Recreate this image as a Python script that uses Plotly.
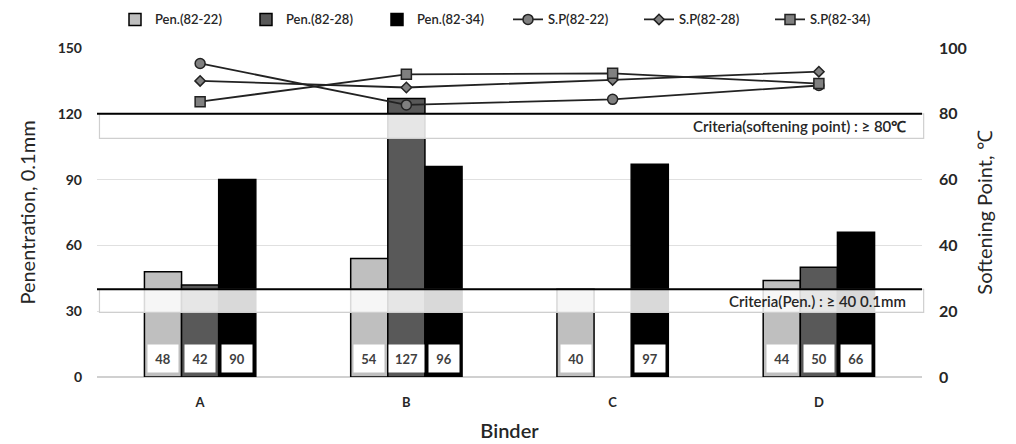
import plotly.graph_objects as go

binders = ["A", "B", "C", "D"]
pen_names = ["Pen.(82-22)", "Pen.(82-28)", "Pen.(82-34)"]
pen_82_22 = [48, 54, 40, 44]
pen_82_28 = [42, 127, None, 50]
pen_82_34 = [90, 96, 97, 66]

sp_names = ["S.P(82-22)", "S.P(82-28)", "S.P(82-34)"]
sp_82_22 = [95.3, 82.7, 84.4, 88.6]
sp_82_28 = [90.0, 88.0, 90.3, 92.8]
sp_82_34 = [83.7, 92.0, 92.3, 89.2]

pen_criteria = 40
sp_criteria = 80

FONT = "Lato"
bar_colors = ["#bfbfbf", "#595959", "#000000"]
pen_series = [pen_82_22, pen_82_28, pen_82_34]
sp_series = [sp_82_22, sp_82_28, sp_82_34]

fig = go.Figure()
for name, vals, col in zip(pen_names, pen_series, bar_colors):
    fig.add_trace(go.Bar(
        x=binders, y=vals, name=name,
        marker=dict(color=col, line=dict(color="#000000", width=1.5)),
        yaxis="y",
    ))

sp_markers = [
    dict(symbol="circle", size=10, color="#808080", line=dict(color="#222", width=1.5)),
    dict(symbol="diamond", size=8, color="#808080", line=dict(color="#222", width=1.5)),
    dict(symbol="square", size=10, color="#808080", line=dict(color="#222", width=1.5)),
]
for name, vals, mk in zip(sp_names, sp_series, sp_markers):
    fig.add_trace(go.Scatter(
        x=binders, y=vals, name=name, mode="lines+markers",
        line=dict(color="#222222", width=1.8), marker=mk, yaxis="y2",
    ))

# data labels at bar bottoms
bar_w = 0.18
for i, vals in enumerate(pen_series):
    for j, v in enumerate(vals):
        if v is None:
            continue
        fig.add_annotation(
            x=j + (i - 1) * bar_w, y=0, xref="x", yref="y",
            text="<b>%d</b>" % v, showarrow=False, yanchor="bottom", yshift=4,
            font=dict(family=FONT, size=13, color="#404040"),
            bgcolor="white", width=28 if v < 100 else 33, height=25,
        )

# criteria bands
for crit, label, depth in [(sp_criteria * 1.5, "Criteria(softening point) : ≥ 80℃", 11.2),
                           (pen_criteria, "Criteria(Pen.) : ≥ 40 0.1mm", 10.5)]:
    fig.add_shape(type="rect", xref="paper", yref="y", x0=0.003, x1=1.002,
                  y0=crit - depth, y1=crit, layer="above",
                  fillcolor="rgba(255,255,255,0.85)", line=dict(color="#cfcfcf", width=1.2))
    fig.add_shape(type="line", xref="paper", yref="y", x0=0, x1=1, y0=crit, y1=crit,
                  layer="above", line=dict(color="#000000", width=2))
    fig.add_annotation(x=0.983, y=crit - depth / 2, xref="paper", yref="y",
                       text=label, showarrow=False, xanchor="right", yanchor="middle",
                       font=dict(family=FONT, size=15, color="#262626", weight=600))

fig.update_layout(
    width=1016, height=444,
    margin=dict(l=97, r=94, t=48, b=67, autoexpand=False),
    paper_bgcolor="white", plot_bgcolor="white",
    barmode="group", bargap=0.46, bargroupgap=0,
    font=dict(family=FONT, color="#262626"),
    legend=dict(orientation="h", x=0.5, xanchor="center", xref="container",
                y=0.99, yanchor="top", yref="container",
                entrywidth=86, entrywidthmode="pixels",
                font=dict(family=FONT, size=13, color="#262626", weight=600),
                traceorder="normal"),
    xaxis=dict(showgrid=False, tickfont=dict(family=FONT, size=13, color="#262626", weight="bold"),
               ticklabelstandoff=16,
               title=dict(text="Binder", font=dict(family=FONT, size=20, color="#262626", weight=600),
                          standoff=14),
               showline=False, ticks=""),
    yaxis=dict(range=[0, 150], dtick=30, showgrid=True, gridcolor="#e0e0e0", gridwidth=1,
               zeroline=True, zerolinecolor="#d0d0d0", ticklabelstandoff=14,
               tickfont=dict(family=FONT, size=14, color="#262626", weight="bold"),
               title=dict(text="Penentration, 0.1mm", font=dict(family=FONT, size=20, color="#262626"),
                          standoff=16)),
    yaxis2=dict(range=[0, 100], dtick=20, overlaying="y", side="right", showgrid=False,
                zeroline=False, ticklabelstandoff=16,
                tickfont=dict(family=FONT, size=16, color="#262626", weight="bold"),
                title=dict(text="Softening Point, ℃", font=dict(family=FONT, size=20, color="#262626"),
                           standoff=12)),
)

fig.write_html("out.html")
